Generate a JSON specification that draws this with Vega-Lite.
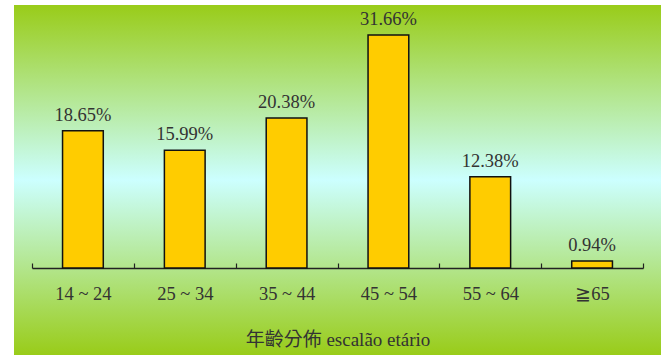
{
  "$schema": "https://vega.github.io/schema/vega-lite/v6.json",
  "autosize": "none",
  "width": 647,
  "height": 350,
  "padding": {"left": 14, "top": 5, "right": 3, "bottom": 0},
  "background": "white",
  "data": {
    "values": [
      {"group": "14 ~ 24", "pct": 18.65, "label": "18.65%"},
      {"group": "25 ~ 34", "pct": 15.99, "label": "15.99%"},
      {"group": "35 ~ 44", "pct": 20.38, "label": "20.38%"},
      {"group": "45 ~ 54", "pct": 31.66, "label": "31.66%"},
      {"group": "55 ~ 64", "pct": 12.38, "label": "12.38%"},
      {"group": "≧65", "pct": 0.94, "label": "0.94%"}
    ]
  },
  "encoding": {
    "x": {
      "field": "group",
      "type": "nominal",
      "sort": null,
      "scale": {"range": [18, 629], "paddingInner": 0, "paddingOuter": 0},
      "axis": {
        "title": "年齡分佈 escalão etário",
        "orient": "bottom",
        "offset": -87,
        "labelAngle": 0,
        "domainColor": "#222222",
        "domainWidth": 1.5,
        "tickColor": "#222222",
        "tickWidth": 1.2,
        "tickSize": -5,
        "tickBand": "extent",
        "tickExtra": true,
        "labelPadding": 21,
        "labelFont": "'Liberation Serif', 'Times New Roman', serif",
        "labelFontSize": 18.5,
        "labelColor": "#333333",
        "titleFont": "'Liberation Serif', 'Noto Sans CJK TC', serif",
        "titleFontSize": 19,
        "titleFontWeight": "normal",
        "titleColor": "#333333",
        "titlePadding": 28,
        "grid": false
      }
    },
    "y": {
      "field": "pct",
      "type": "quantitative",
      "scale": {"domain": [0, 35.73], "range": [263, 0], "nice": false, "zero": true},
      "axis": null
    }
  },
  "layer": [
    {
      "mark": {"type": "bar", "width": {"band": 0.4}, "fill": "#FFCC00", "stroke": "#111111", "strokeWidth": 1.5}
    },
    {
      "mark": {"type": "text", "baseline": "alphabetic", "dy": -10, "font": "'Liberation Serif', 'Times New Roman', serif", "fontSize": 18.5, "fill": "#333333"},
      "encoding": {"text": {"field": "label"}}
    }
  ],
  "config": {
    "view": {
      "stroke": null,
      "fill": {
        "gradient": "linear",
        "x1": 0, "y1": 0, "x2": 0, "y2": 1,
        "stops": [
          {"offset": 0, "color": "#99CC19"},
          {"offset": 0.5, "color": "#CCFFFF"},
          {"offset": 1, "color": "#99CC19"}
        ]
      }
    }
  }
}
